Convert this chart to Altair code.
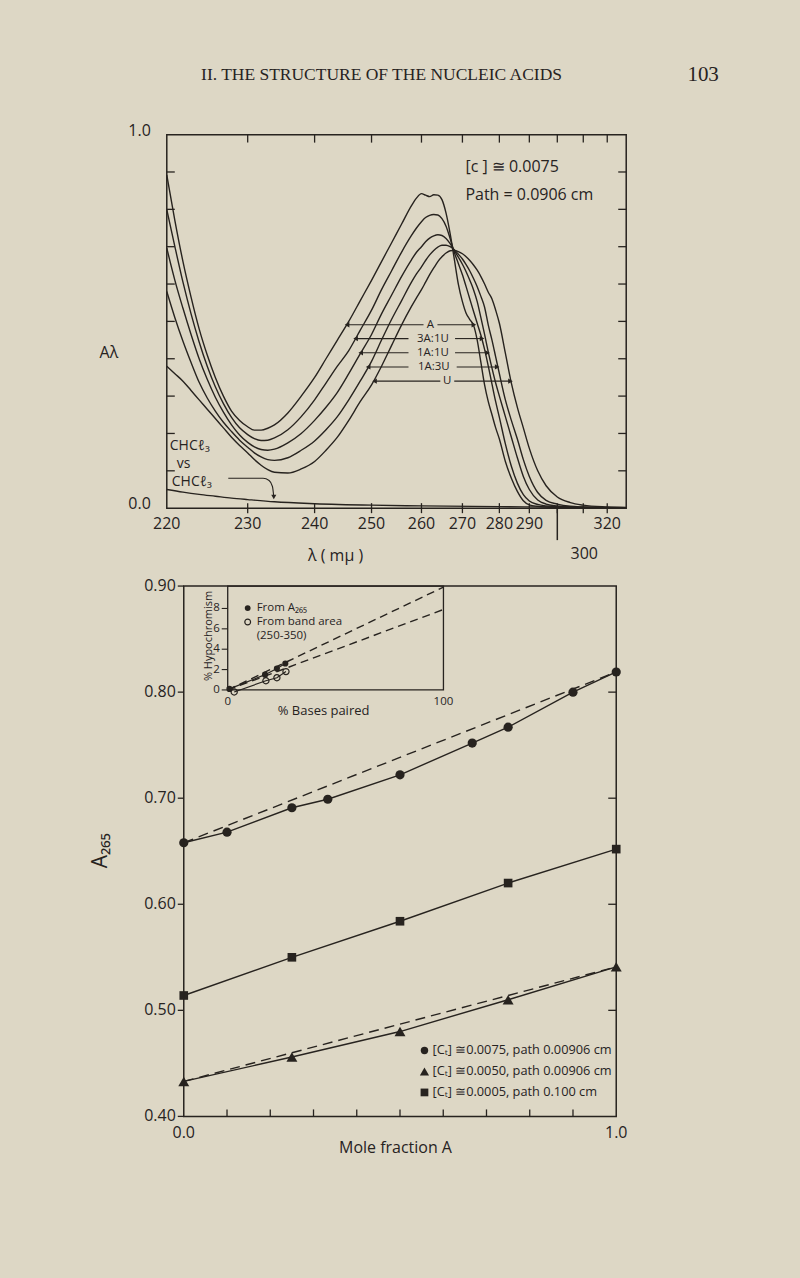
import altair as alt
import pandas as pd

INK = "#27231f"
PAPER = "#ddd7c5"
SANS = "Open Sans"
SERIF = "Liberation Serif"

# ---------------- upper panel: absorption spectra ----------------
WAVELENGTH = [220, 221, 222, 223, 224, 225, 226, 227, 228, 229, 230, 231, 232, 233, 234,
              236, 238, 240, 242, 244, 246, 248, 250, 252, 254, 256, 258,
              259, 260, 261, 262, 263, 264, 265, 266, 267, 268, 269, 270, 271, 272, 273,
              274, 275, 276, 277, 278, 279, 280,
              282, 284, 286, 288, 290,
              293, 296, 300, 305, 310, 320, 330]
ABS_A = [0.892, 0.77, 0.66, 0.565, 0.48, 0.41, 0.35, 0.30, 0.26, 0.235, 0.218, 0.209, 0.209, 0.214, 0.223,
         0.255, 0.30, 0.35, 0.40, 0.45, 0.50, 0.555, 0.61, 0.66, 0.71, 0.76, 0.81,
         0.83, 0.842, 0.838, 0.834, 0.839, 0.838, 0.826, 0.79, 0.735, 0.668, 0.60, 0.553, 0.522, 0.505, 0.49,
         0.45, 0.39, 0.33, 0.285, 0.25, 0.215, 0.185,
         0.125, 0.08, 0.045, 0.02, 0.009,
         0.005, 0.003, 0.002, 0.001, 0.001, 0.0005, 0.0]
ABS_3A1U = [0.799, 0.70, 0.605, 0.52, 0.445, 0.38, 0.325, 0.28, 0.243, 0.215, 0.197, 0.186, 0.181, 0.182, 0.188,
            0.21, 0.245, 0.29, 0.335, 0.38, 0.422, 0.476, 0.53, 0.585, 0.635, 0.685, 0.73,
            0.75, 0.767, 0.778, 0.784, 0.786, 0.785, 0.775, 0.755, 0.722, 0.685, 0.655, 0.625, 0.593, 0.56, 0.527,
            0.495, 0.463, 0.425, 0.38, 0.332, 0.285, 0.243,
            0.172, 0.112, 0.067, 0.036, 0.019,
            0.01, 0.006, 0.004, 0.002, 0.001, 0.0005, 0.0]
ABS_1A1U = [0.696, 0.61, 0.535, 0.465, 0.40, 0.345, 0.297, 0.257, 0.223, 0.196, 0.176, 0.164, 0.157, 0.155, 0.158,
            0.175, 0.20, 0.235, 0.27, 0.31, 0.36, 0.413, 0.465, 0.52, 0.57, 0.62, 0.665,
            0.685, 0.70, 0.713, 0.723, 0.729, 0.732, 0.73, 0.722, 0.708, 0.69, 0.672, 0.653, 0.633, 0.61, 0.585,
            0.553, 0.51, 0.465, 0.418, 0.375, 0.335, 0.30,
            0.245, 0.19, 0.135, 0.085, 0.05,
            0.022, 0.011, 0.006, 0.003, 0.002, 0.001, 0.0]
ABS_1A3U = [0.58, 0.51, 0.447, 0.39, 0.337, 0.295, 0.26, 0.23, 0.205, 0.182, 0.163, 0.148, 0.137, 0.13, 0.128,
            0.135, 0.155, 0.18, 0.21, 0.245, 0.29, 0.34, 0.393, 0.45, 0.505, 0.555, 0.605,
            0.627, 0.646, 0.663, 0.678, 0.69, 0.699, 0.704, 0.704, 0.70, 0.692, 0.68, 0.667, 0.652, 0.635, 0.615,
            0.593, 0.567, 0.538, 0.49, 0.45, 0.405, 0.36,
            0.29, 0.235, 0.185, 0.13, 0.085,
            0.042, 0.021, 0.011, 0.005, 0.003, 0.001, 0.0]
ABS_U = [0.38, 0.36, 0.34, 0.315, 0.29, 0.265, 0.24, 0.215, 0.19, 0.168, 0.148, 0.13, 0.115, 0.103, 0.096,
         0.094, 0.105, 0.125, 0.155, 0.19, 0.235, 0.285, 0.33, 0.38, 0.435, 0.49, 0.54,
         0.563, 0.585, 0.605, 0.625, 0.643, 0.66, 0.673, 0.683, 0.689, 0.69, 0.687, 0.681, 0.673, 0.663, 0.651,
         0.637, 0.62, 0.60, 0.578, 0.56, 0.53, 0.495,
         0.415, 0.335, 0.27, 0.215, 0.16,
         0.10, 0.06, 0.03, 0.015, 0.008, 0.003, 0.001]
SPECTRA_NAMES = ["A", "3A:1U", "1A:1U", "1A:3U", "U"]

CHCL3_WL = [220, 222, 224, 226, 228, 230, 234, 240, 250, 260, 280, 300, 330]
CHCL3_ABS = [0.05, 0.043, 0.037, 0.032, 0.027, 0.023, 0.017, 0.012, 0.008, 0.006, 0.004, 0.003, 0.002]

# arrows tying each label to its curve
ARROW_V = [0.491, 0.454, 0.416, 0.378, 0.340]
ARROW_LEFT_TIP = [245.7, 247.2, 248.1, 249.4, 250.6]
ARROW_LEFT_END = [260.5, 257.4, 257.4, 257.4, 264.6]
ARROW_RIGHT_START = [263.9, 268.2, 268.2, 268.6, 268.0]
ARROW_RIGHT_TIP = [273.1, 275.3, 276.8, 279.4, 283.7]
LABEL_WL = [262.2, 262.8, 262.8, 263.0, 266.3]

CHCL3_ARROW_WL = [227.6, 232.3, 233.2, 233.7, 233.9]
CHCL3_ARROW_V = [0.080, 0.080, 0.074, 0.058, 0.030]

TOP_Y_TICKS = [0.1, 0.2, 0.3, 0.4, 0.5, 0.6, 0.7, 0.8, 0.9]
TOP_Y_LABELS = [0.0, 1.0]
TOP_X_TICKS = [230, 240, 250, 260, 270, 280, 290, 300, 310, 320]
TOP_X_LABELS = [220, 230, 240, 250, 260, 270, 280, 290, 320]

# ---------------- lower panel: A265 vs mole fraction ----------------
MOLE_FRACTION_CIRCLE = [0.0, 0.1, 0.25, 0.333, 0.5, 0.667, 0.75, 0.9, 1.0]
A265_CIRCLE = [0.658, 0.668, 0.691, 0.699, 0.722, 0.752, 0.767, 0.800, 0.819]
MOLE_FRACTION_TRIANGLE = [0.0, 0.25, 0.5, 0.75, 1.0]
A265_TRIANGLE = [0.433, 0.456, 0.480, 0.510, 0.541]
MOLE_FRACTION_SQUARE = [0.0, 0.25, 0.5, 0.75, 1.0]
A265_SQUARE = [0.514, 0.550, 0.584, 0.620, 0.652]
LEGEND_LABELS = ["[Cₜ] ≅0.0075, path 0.00906 cm",
                 "[Cₜ] ≅0.0050, path 0.00906 cm",
                 "[Cₜ] ≅0.0005, path 0.100 cm"]
BOT_Y_TICKS = [0.4, 0.5, 0.6, 0.7, 0.8, 0.9]
BOT_RIGHT_TICKS = [0.5, 0.6, 0.7, 0.8]
BOT_X_TICKS = [0.1, 0.2, 0.3, 0.4, 0.5, 0.6, 0.7, 0.8, 0.9]
BOT_X_LABELS = [0.0, 1.0]

# inset: % hypochromism vs % bases paired
INSET_PAIRED_FILLED = [0.8, 17.3, 22.8, 26.7]
INSET_HYPO_FILLED = [0.1, 1.5, 2.1, 2.6]
INSET_PAIRED_OPEN = [3.0, 17.7, 22.8, 27.0]
INSET_HYPO_OPEN = [-0.2, 0.9, 1.2, 1.8]
INSET_TREND_PAIRED = [0, 100]
INSET_TREND_FILLED = [0.0, 10.1]
INSET_TREND_OPEN = [0.0, 7.9]
INSET_Y_TICKS = [0, 2, 4, 6, 8]
INSET_X_LABELS = [0, 100]

# ---------------- layout constants ----------------
W1, H1 = 460, 374
WL_DOMAIN = [220, 230, 240, 250, 260, 270, 280, 290, 300, 310, 320, 330]
WL_RANGE = [0, 81, 148, 205, 255, 296, 333, 363, 391, 417, 441, 460]
W2, H2 = 450, 531
X2_LEFT = 17
INSET_X_RANGE = [61, 277]
INSET_H = 104


def one_row():
    return pd.DataFrame({"k": [0]})


def label(text, x, y, size=15, align="left", font=SANS, angle=0, baseline="middle"):
    return alt.Chart(pd.DataFrame({"t": [text]})).mark_text(
        align=align, baseline=baseline, fontSize=size, font=font, color=INK, angle=angle
    ).encode(text="t:N", x=alt.value(x), y=alt.value(y))


def frame(x0, x1, y0, y1, width=1.5):
    return alt.Chart(one_row()).mark_rect(
        fillOpacity=0, stroke=INK, strokeWidth=width
    ).encode(x=alt.value(x0), x2=alt.value(x1), y=alt.value(y0), y2=alt.value(y1))


tick_rule = dict(color=INK, strokeWidth=1.3)

# ================= upper chart =================
curves = pd.concat([
    pd.DataFrame({"wl": WAVELENGTH, "v": vals, "series": name})
    for name, vals in zip(SPECTRA_NAMES, [ABS_A, ABS_3A1U, ABS_1A1U, ABS_1A3U, ABS_U])
])

WLX = "wl:Q"
VY = "v:Q"
x_top = alt.X(WLX, axis=None,
              scale=alt.Scale(type="linear", domain=WL_DOMAIN, range=WL_RANGE, nice=False, zero=False))
y_top = alt.Y(VY, axis=None, scale=alt.Scale(domain=[0, 1], nice=False, zero=False))


def tx():
    return alt.X(WLX, axis=None)


def ty():
    return alt.Y(VY, axis=None)


spectra = alt.Chart(curves).mark_line(color=INK, strokeWidth=1.4, interpolate="monotone").encode(
    x=x_top, y=y_top, detail="series:N")

chcl3 = alt.Chart(pd.DataFrame({"wl": CHCL3_WL, "v": CHCL3_ABS})).mark_line(
    color=INK, strokeWidth=1.4, interpolate="monotone").encode(x=tx(), y=ty())

arrows = pd.DataFrame({"v": ARROW_V, "l1": ARROW_LEFT_TIP, "l2": ARROW_LEFT_END,
                       "r1": ARROW_RIGHT_START, "r2": ARROW_RIGHT_TIP,
                       "lw": LABEL_WL, "name": SPECTRA_NAMES})
arrow_left = alt.Chart(arrows).mark_rule(color=INK, strokeWidth=1.1).encode(
    x=alt.X("l1:Q", axis=None), x2="l2:Q", y=ty())
arrow_right = alt.Chart(arrows).mark_rule(color=INK, strokeWidth=1.1).encode(
    x=alt.X("r1:Q", axis=None), x2="r2:Q", y=ty())
head_left = alt.Chart(arrows).mark_point(shape="triangle-left", filled=True, size=28, color=INK, opacity=1).encode(
    x=alt.X("l1:Q", axis=None), y=ty())
head_right = alt.Chart(arrows).mark_point(shape="triangle-right", filled=True, size=28, color=INK, opacity=1).encode(
    x=alt.X("r2:Q", axis=None), y=ty())
curve_labels = alt.Chart(arrows).mark_text(fontSize=11.5, font=SANS, color=INK).encode(
    x=alt.X("lw:Q", axis=None), y=ty(), text="name:N")

chcl3_arrow = alt.Chart(pd.DataFrame({"wl": CHCL3_ARROW_WL, "v": CHCL3_ARROW_V})).mark_line(
    color=INK, strokeWidth=1.1, interpolate="monotone").encode(x=tx(), y=ty())
chcl3_head = alt.Chart(pd.DataFrame({"wl": CHCL3_ARROW_WL[-1:], "v": CHCL3_ARROW_V[-1:]})).mark_point(
    shape="triangle-down", filled=True, size=26, color=INK, opacity=1).encode(x=tx(), y=ty())

yt = pd.DataFrame({"v": TOP_Y_TICKS})
xt = pd.DataFrame({"wl": TOP_X_TICKS})
top_left_ticks = alt.Chart(yt).mark_rule(**tick_rule).encode(y=ty(), x=alt.value(0), x2=alt.value(8))
top_right_ticks = alt.Chart(yt).mark_rule(**tick_rule).encode(y=ty(), x=alt.value(W1), x2=alt.value(W1 - 8))
top_top_ticks = alt.Chart(xt).mark_rule(**tick_rule).encode(x=tx(), y=alt.value(0), y2=alt.value(8))
top_bottom_ticks = alt.Chart(xt).mark_rule(**tick_rule).encode(x=tx(), y=alt.value(H1 - 5), y2=alt.value(H1 + 5))

top_x_labels = alt.Chart(pd.DataFrame({"wl": TOP_X_LABELS})).mark_text(
    fontSize=16, font=SANS, color=INK).encode(
    x=tx(), y=alt.value(H1 + 16), text=alt.Text(WLX, format="d"))
top_y_labels = alt.Chart(pd.DataFrame({"v": TOP_Y_LABELS})).mark_text(
    fontSize=16, font=SANS, color=INK, align="right", dy=-4).encode(
    y=ty(), x=alt.value(-16), text=alt.Text(VY, format=".1f"))

mark300 = pd.DataFrame({"wl": [300], "t": ["300"]})
long_tick_300 = alt.Chart(mark300).mark_rule(color=INK, strokeWidth=1.5).encode(
    x=tx(), y=alt.value(H1), y2=alt.value(H1 + 32))
label_300 = alt.Chart(mark300).mark_text(dx=27, fontSize=16, font=SANS, color=INK).encode(
    x=tx(), y=alt.value(H1 + 46), text="t:N")

anchor_tl = alt.Chart(one_row()).mark_rule(color=PAPER, strokeWidth=1).encode(
    x=alt.value(-166), x2=alt.value(-165), y=alt.value(-133))
anchor_br = alt.Chart(one_row()).mark_rule(color=PAPER, strokeWidth=1).encode(
    x=alt.value(632), x2=alt.value(633), y=alt.value(1143))

top_chart = alt.layer(
    spectra, chcl3, arrow_left, arrow_right, head_left, head_right, curve_labels,
    chcl3_arrow, chcl3_head, frame(0, W1, 0, H1),
    top_left_ticks, top_right_ticks, top_top_ticks, top_bottom_ticks, long_tick_300, label_300,
    top_x_labels, top_y_labels, anchor_tl, anchor_br,
    label("[c ] ≅ 0.0075", 299, 32, size=16),
    label("Path = 0.0906 cm", 299, 60, size=16),
    label("CHCℓ₃", 3, 312, size=14),
    label("vs", 10, 330, size=14),
    label("CHCℓ₃", 5, 348, size=14),
    label("Aλ", -58, 219, size=16, align="center"),
    label("λ ( mμ )", 169, 422, size=16, align="center"),
    label("II.  THE STRUCTURE OF THE NUCLEIC ACIDS", 215, -60, size=17.5, align="center", font=SERIF),
    label("103", 537, -60, size=21, align="center", font=SERIF),
).properties(width=W1, height=H1)

# ================= lower chart =================
MX = "m:Q"
AY = "a:Q"
x_bot = alt.X(MX, axis=None, scale=alt.Scale(domain=[0, 1], range=[X2_LEFT, W2], nice=False, zero=False))
y_bot = alt.Y(AY, axis=None, scale=alt.Scale(domain=[0.4, 0.9], nice=False, zero=False))


def bx():
    return alt.X(MX, axis=None)


def by():
    return alt.Y(AY, axis=None)


circ = pd.DataFrame({"m": MOLE_FRACTION_CIRCLE, "a": A265_CIRCLE, "series": "c"})
tri = pd.DataFrame({"m": MOLE_FRACTION_TRIANGLE, "a": A265_TRIANGLE, "series": "t"})
sq = pd.DataFrame({"m": MOLE_FRACTION_SQUARE, "a": A265_SQUARE, "series": "s"})
series_df = pd.concat([circ, tri, sq])
dashed_df = pd.concat([circ.iloc[[0, -1]], tri.iloc[[0, -1]]])

solid_lines = alt.Chart(series_df).mark_line(color=INK, strokeWidth=1.4).encode(
    x=x_bot, y=y_bot, detail="series:N")
dashed_lines = alt.Chart(dashed_df).mark_line(color=INK, strokeWidth=1.4, strokeDash=[10, 6]).encode(
    x=bx(), y=by(), detail="series:N")
circ_pts = alt.Chart(circ).mark_point(shape="circle", filled=True, size=85, color=INK, opacity=1).encode(
    x=bx(), y=by())
tri_pts = alt.Chart(tri).mark_point(shape="triangle-up", filled=True, size=120, color=INK, opacity=1).encode(
    x=bx(), y=by())
sq_pts = alt.Chart(sq).mark_point(shape="square", filled=True, size=75, color=INK, opacity=1).encode(
    x=bx(), y=by())

bt_left = alt.Chart(pd.DataFrame({"a": BOT_Y_TICKS})).mark_rule(**tick_rule).encode(
    y=by(), x=alt.value(X2_LEFT - 6), x2=alt.value(X2_LEFT))
bt_right = alt.Chart(pd.DataFrame({"a": BOT_RIGHT_TICKS})).mark_rule(**tick_rule).encode(
    y=by(), x=alt.value(W2), x2=alt.value(W2 - 8))
bt_bottom = alt.Chart(pd.DataFrame({"m": BOT_X_TICKS})).mark_rule(**tick_rule).encode(
    x=bx(), y=alt.value(H2), y2=alt.value(H2 - 7))
bot_y_labels = alt.Chart(pd.DataFrame({"a": BOT_Y_TICKS})).mark_text(
    fontSize=16, font=SANS, color=INK, align="right").encode(
    y=by(), x=alt.value(X2_LEFT - 8), text=alt.Text(AY, format=".2f"))
bot_x_labels = alt.Chart(pd.DataFrame({"m": BOT_X_LABELS})).mark_text(
    fontSize=16, font=SANS, color=INK).encode(
    x=bx(), y=alt.value(H2 + 17), text=alt.Text(MX, format=".1f"))

LEG_X, LEG_TX, LEG_Y0, LEG_DY = 258, 266, 465, 21
legend_layers = []
for i, (shape, size) in enumerate([("circle", 55), ("triangle-up", 85), ("square", 60)]):
    legend_layers.append(alt.Chart(one_row()).mark_point(
        shape=shape, filled=True, size=size, color=INK, opacity=1).encode(
        x=alt.value(LEG_X), y=alt.value(LEG_Y0 + i * LEG_DY)))
    legend_layers.append(label(LEGEND_LABELS[i], LEG_TX, LEG_Y0 + i * LEG_DY, size=12.8))

main_bottom = alt.layer(
    solid_lines, dashed_lines, circ_pts, tri_pts, sq_pts,
    frame(X2_LEFT, W2, 0, H2), bt_left, bt_right, bt_bottom, bot_y_labels, bot_x_labels,
    *legend_layers,
    label("A₂₆₅", -66, 265, size=21, align="center", angle=270),
    label("Mole fraction A", 229, 563, size=16, align="center"),
    label("From A₂₆₅", 90, 22, size=11.5),
    label("From band area", 90, 36, size=11.5),
    label("(250-350)", 90, 50, size=11.5),
    label("% Hypochromism", 42, 50, size=11, align="center", angle=270),
    label("% Bases paired", 157, 125, size=13, align="center"),
)

# ---- inset (own scales) ----
PX = "p:Q"
HY = "h:Q"
inset_filled = pd.DataFrame({"p": INSET_PAIRED_FILLED, "h": INSET_HYPO_FILLED})
inset_open = pd.DataFrame({"p": INSET_PAIRED_OPEN, "h": INSET_HYPO_OPEN})
inset_trend = pd.concat([
    pd.DataFrame({"p": INSET_TREND_PAIRED, "h": INSET_TREND_FILLED, "s": "filled"}),
    pd.DataFrame({"p": INSET_TREND_PAIRED, "h": INSET_TREND_OPEN, "s": "open"}),
])
x_in = alt.X(PX, axis=None, scale=alt.Scale(domain=[0, 100], range=INSET_X_RANGE, nice=False, zero=False))
y_in = alt.Y(HY, axis=None, scale=alt.Scale(domain=[0, 10.2], range=[INSET_H, 0], nice=False, zero=False))


def ix():
    return alt.X(PX, axis=None)


def iy():
    return alt.Y(HY, axis=None)


inset_trend_lines = alt.Chart(inset_trend).mark_line(color=INK, strokeWidth=1.4, strokeDash=[8, 5]).encode(
    x=x_in, y=y_in, detail="s:N")
inset_line_f = alt.Chart(inset_filled).mark_line(color=INK, strokeWidth=1.2).encode(x=ix(), y=iy())
inset_line_o = alt.Chart(inset_open).mark_line(color=INK, strokeWidth=1.2).encode(x=ix(), y=iy())
inset_pts_f = alt.Chart(inset_filled).mark_point(filled=True, size=38, color=INK, opacity=1).encode(
    x=ix(), y=iy())
inset_pts_o = alt.Chart(inset_open).mark_point(filled=False, size=38, color=INK, strokeWidth=1.2,
                                               opacity=1).encode(x=ix(), y=iy())
inset_ticks = alt.Chart(pd.DataFrame({"h": INSET_Y_TICKS})).mark_rule(color=INK, strokeWidth=1.1).encode(
    y=iy(), x=alt.value(INSET_X_RANGE[0] - 6), x2=alt.value(INSET_X_RANGE[0]))
inset_y_labels = alt.Chart(pd.DataFrame({"h": INSET_Y_TICKS})).mark_text(
    fontSize=11.5, font=SANS, color=INK, align="right").encode(
    y=iy(), x=alt.value(INSET_X_RANGE[0] - 8), text=alt.Text(HY, format="d"))
inset_x_labels = alt.Chart(pd.DataFrame({"p": INSET_X_LABELS})).mark_text(
    fontSize=11.5, font=SANS, color=INK).encode(
    x=ix(), y=alt.value(INSET_H + 12), text=alt.Text(PX, format="d"))
inset_key_f = alt.Chart(one_row()).mark_point(filled=True, size=34, color=INK, opacity=1).encode(
    x=alt.value(81), y=alt.value(22))
inset_key_o = alt.Chart(one_row()).mark_point(filled=False, size=34, color=INK, strokeWidth=1.2,
                                              opacity=1).encode(x=alt.value(81), y=alt.value(36))

inset = alt.layer(inset_trend_lines, inset_line_f, inset_line_o, inset_pts_f, inset_pts_o,
                  frame(INSET_X_RANGE[0], INSET_X_RANGE[1], 0, INSET_H, width=1.3),
                  inset_ticks, inset_y_labels, inset_x_labels, inset_key_f, inset_key_o)

bottom_chart = alt.layer(main_bottom, inset).resolve_scale(
    x="independent", y="independent").properties(width=W2, height=H2)

chart = alt.vconcat(top_chart, bottom_chart, spacing=78, bounds="flush").properties(
    background=PAPER, padding=0
).configure_view(stroke="transparent")

chart.save("out.html", embed_options={"renderer": "svg", "actions": False})
